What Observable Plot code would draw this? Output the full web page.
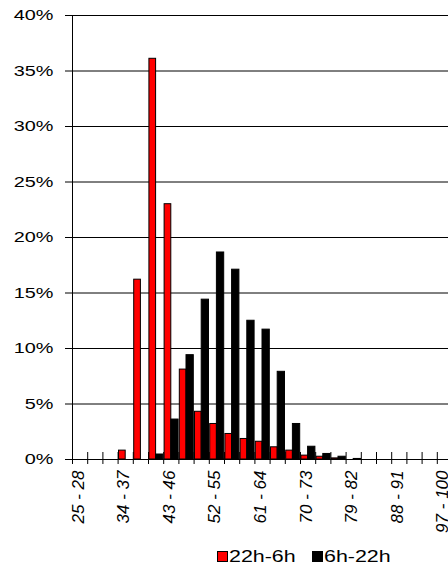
<!DOCTYPE html>
<html>
<head>
<meta charset="utf-8">
<script src="https://cdn.jsdelivr.net/npm/d3@7"></script>
<script src="https://cdn.jsdelivr.net/npm/@observablehq/plot@0.6"></script>
<style>
  html, body { margin: 0; padding: 0; background: #fff; overflow: hidden; }
  #wrap { position: relative; width: 448px; height: 566px; overflow: hidden; font-family: "Liberation Sans", Arial, sans-serif; }
  .sq { position: absolute; box-sizing: border-box; width: 11px; height: 11px; border: 1px solid #000; }
  .lt { position: absolute; font-size: 17px; line-height: 17px; white-space: nowrap; transform: scaleX(1.26); transform-origin: left center; color: #000; }
</style>
</head>
<body>
<div id="wrap">
  <div id="chart"></div>
  <div class="sq" style="left:217px; top:551px; background:#ff0000;"></div>
  <div class="lt" style="left:228.5px; top:548px;">22h-6h</div>
  <div class="sq" style="left:312px; top:551px; background:#000;"></div>
  <div class="lt" style="left:323.5px; top:548px;">6h-22h</div>
</div>
<script>
const categories = ["25 - 28","28 - 31","31 - 34","34 - 37","37 - 40","40 - 43","43 - 46","46 - 49","49 - 52","52 - 55","55 - 58","58 - 61","61 - 64","64 - 67","67 - 70","70 - 73","73 - 76","76 - 79","79 - 82","82 - 85","85 - 88","88 - 91","91 - 94","94 - 97","97 - 100"];
const shownLabels = ["25 - 28","34 - 37","43 - 46","52 - 55","61 - 64","70 - 73","79 - 82","88 - 91","97 - 100"];
const seriesNames = ["22h-6h","6h-22h"];
const seriesColors = ["#ff0000","#000000"];
// percentages
const night = [0,0,0,0.8,16.2,36.1,23.0,8.1,4.3,3.2,2.3,1.85,1.6,1.1,0.8,0.35,0.25,0.1,0,0,0,0,0,0,0];
const day   = [0,0,0,0,0,0.45,3.6,9.4,14.4,18.65,17.1,12.5,11.7,7.9,3.2,1.15,0.5,0.25,0.05,0,0,0,0,0,0];
const yTicks = [0,5,10,15,20,25,30,35,40];

const rows = categories.flatMap((c, i) => [
  {i, s: 0, v: night[i]},
  {i, s: 1, v: day[i]}
]).filter(d => d.v > 0);

const boundaries = d3.range(categories.length + 1);

const chart = Plot.plot({
  width: 452,
  height: 545,
  marginLeft: 72,
  marginRight: 0,
  marginTop: 15,
  marginBottom: 86,
  style: {fontFamily: "'Liberation Sans', Arial, sans-serif", fontSize: "15.5px", background: "#fff", maxWidth: "none", overflow: "visible"},
  x: {domain: [0, categories.length], axis: null},
  y: {domain: [0, 40], axis: null},
  marks: [
    Plot.ruleY(yTicks.filter(t => t > 0), {stroke: "#000", strokeWidth: 1}),
    Plot.ruleY(yTicks, {x1: -0.46, x2: 0, stroke: "#000"}),
    Plot.ruleX(boundaries, {y1: -0.45, y2: 0.63, stroke: "#000"}),
    Plot.rect(rows, {
      x1: d => d.i + (d.s === 0 ? 0.06 : 0.5),
      x2: d => d.i + (d.s === 0 ? 0.5 : 0.98),
      y1: 0,
      y2: "v",
      fill: d => seriesColors[d.s],
      stroke: "#000",
      strokeWidth: 1
    }),
    Plot.ruleY([0], {stroke: "#000"}),
    Plot.ruleX([0], {stroke: "#000"}),
    Plot.text(yTicks, {
      x: 0,
      y: d => d,
      text: d => d + "%",
      textAnchor: "end",
      dx: -19,
      fontSize: 15.5,
      fill: "#000"
    }),
    Plot.text(shownLabels, {
      x: d => categories.indexOf(d) + 0.5,
      y: 0,
      text: d => d,
      rotate: -90,
      textAnchor: "end",
      dy: 11,
      dx: -2,
      fontSize: 17,
      fontStyle: "italic",
      fill: "#000"
    })
  ]
});
chart.style.maxWidth = "none";
document.getElementById("chart").appendChild(chart);

// stretch y tick labels horizontally about their right edge, like the reference
chart.querySelectorAll("text").forEach(t => {
  if (!/%$/.test(t.textContent)) return;
  const b = t.getBBox();
  const R = b.x + b.width;
  const tr = t.getAttribute("transform") || "";
  t.setAttribute("transform", tr + ` translate(${R},0) scale(1.28,1) translate(${-R},0)`);
});
</script>
</body>
</html>
